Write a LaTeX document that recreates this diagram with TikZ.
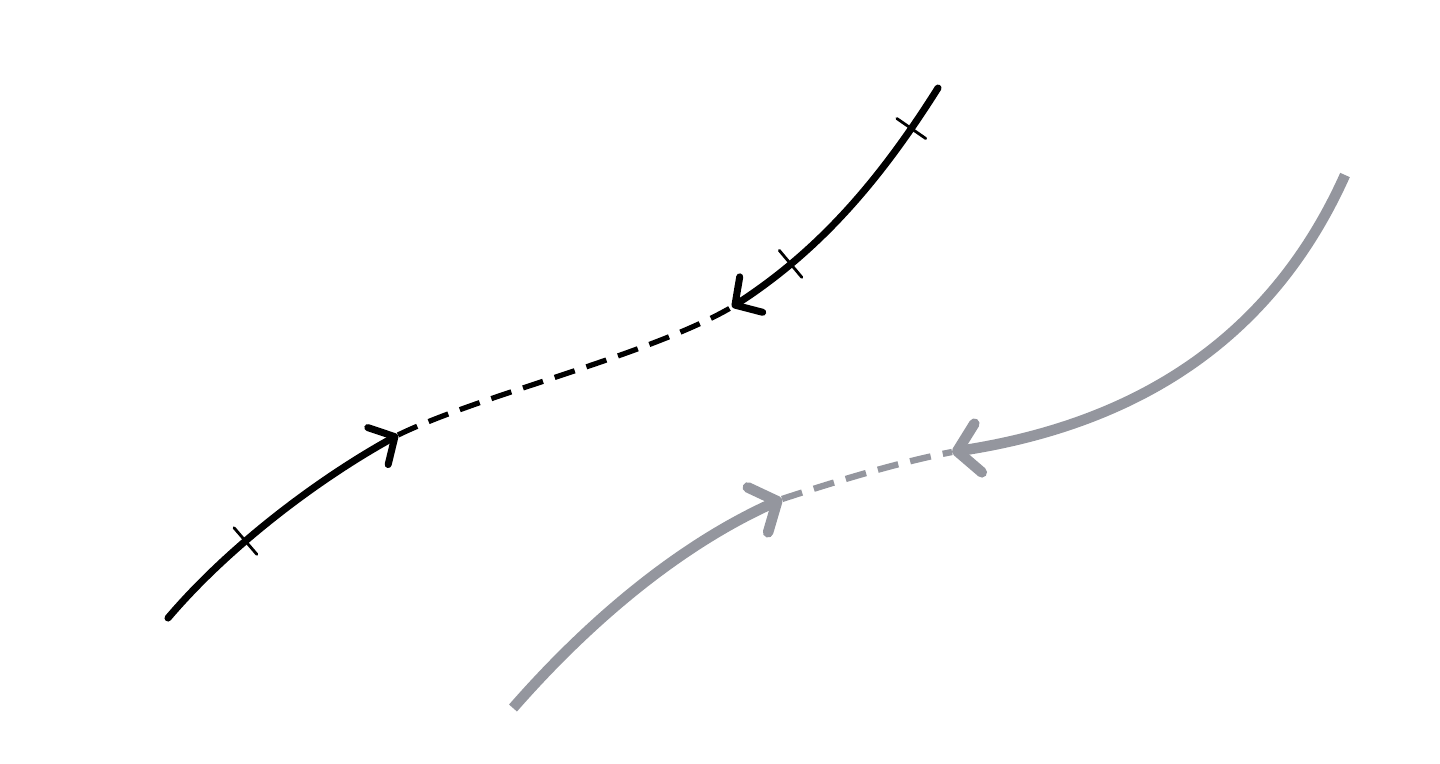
\documentclass[tikz,border=0pt]{standalone}
\usepackage{tikz}
\usepackage{xcolor}
\usetikzlibrary{
    arrows.meta,
    decorations.markings,
    calc
}
\definecolor{shadow}{RGB}{148,150,158}
\tikzset{
    solid part/.style={line width=2pt, line cap=round, -{Straight Barb[length=5.5pt,width=12pt,round]}},
    faint part/.style={line width=3pt, color=shadow, -{Straight Barb[length=6pt,width=14pt,round]}},
    gap part/.style={line width=1.5pt, dash pattern=on 6pt off 3.5pt},
    tick at/.style={postaction={decorate, decoration={markings,
        mark=at position #1 with {\draw[-, line width=0.8pt] (0,-5pt) -- (0,5pt);}}}}
}

\begin{document}
\begin{tikzpicture}[x=0.01cm, y=-0.01cm]
    \useasboundingbox (0,0) rectangle (1440,763);

    \coordinate (s0) at (168, 618);
    \coordinate (s1) at (398, 435);
    \coordinate (t1) at (732, 307);
    \coordinate (t0) at (938, 88);

    \coordinate (u0) at (513, 708);
    \coordinate (u1) at (782, 499);
    \coordinate (v1) at (952, 452);
    \coordinate (v0) at (1345, 175);

    % black strand
    \draw[solid part, tick at=0.37]
    (s0) .. controls (230, 545) and (320, 478) .. (s1);
    \draw[gap part]
    (s1) .. controls (480, 395) and (650, 355) .. (t1);
    \draw[solid part, tick at=0.16, tick at=0.76]
    (t0) .. controls (880, 180) and (820, 250) .. (t1);

    % grey strand
    \draw[faint part]
    (u0) .. controls (590, 620) and (680, 545) .. (u1);
    \draw[gap part, color=shadow, line width=1.8pt]
    (u1) .. controls (840, 480) and (900, 462) .. (v1);
    \draw[faint part]
    (v0) .. controls (1280, 320) and (1160, 420) .. (v1);
\end{tikzpicture}
\end{document}
